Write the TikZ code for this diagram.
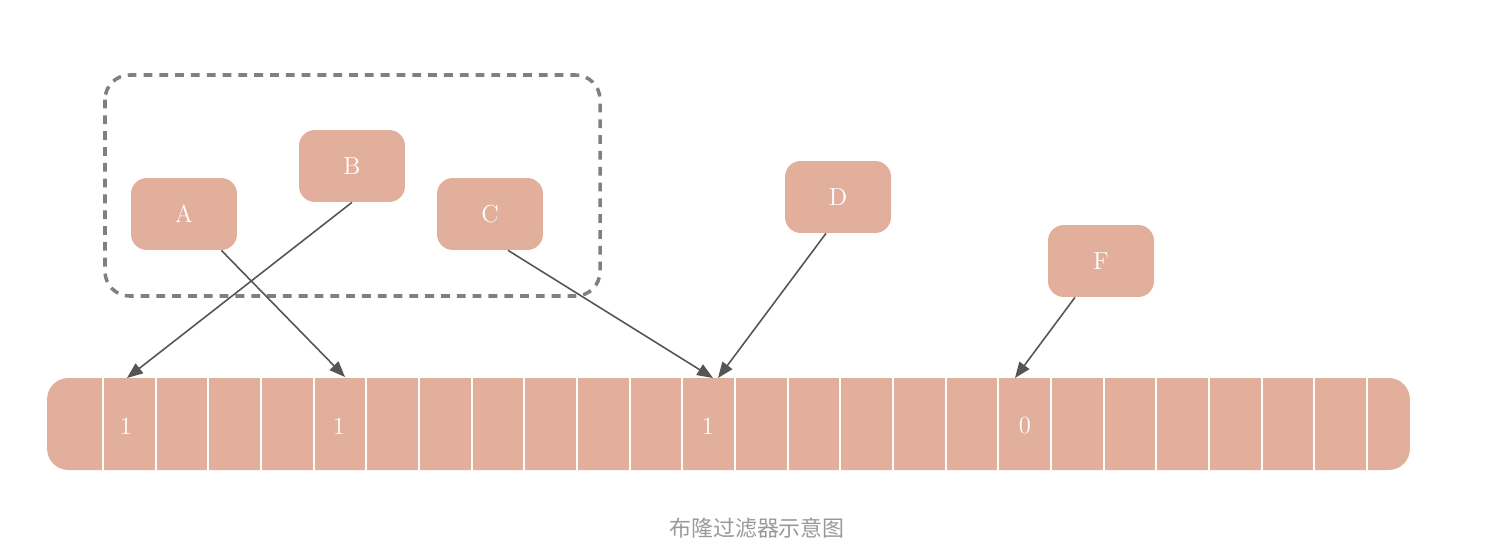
\documentclass[tikz,border=0pt]{standalone}
\usepackage{fontspec}
\newfontfamily\cjk{Noto Sans CJK SC}
\usetikzlibrary{arrows.meta}
\definecolor{salmon}{HTML}{E2AF9C}
\definecolor{arr}{HTML}{555555}
\begin{document}
\begin{tikzpicture}[x=0.02cm,y=-0.02cm,
  key/.style={fill=salmon,rounded corners=9pt,minimum width=2.12cm,minimum height=1.44cm,text=white,font=\fontsize{14}{16}\selectfont,inner sep=0},
  link/.style={draw=arr,line width=0.9pt,-{Triangle[length=9pt,width=7pt]}},
  bit/.style={text=white,font=\fontsize{14}{16}\selectfont}]
\useasboundingbox (0,0) rectangle (1510,548);
\draw[gray,dashed,line width=2pt,dash pattern=on 5pt off 4pt,rounded corners=14pt] (105,75) rectangle (600,296);
\node[fill=salmon,rounded corners=12pt,minimum width=27.26cm,minimum height=1.84cm,inner sep=0] (bar) at (728.5,424) {};
\foreach \i in {0,...,24}{\draw[white,line width=1.2pt] (103+52.67*\i,378) -- (103+52.67*\i,470);}
\node[key] (A) at (184,214) {A};
\node[key] (B) at (352,166) {B};
\node[key] (C) at (490,214) {C};
\node[key] (D) at (838,197) {D};
\node[key] (F) at (1101,261) {F};
\node[bit] (b1) at (126,426) {1};
\node[bit] (b2) at (339,426) {1};
\node[bit] (b3) at (708,426) {1};
\node[bit] (b4) at (1025,426) {0};
\coordinate (tA) at (345,377);
\coordinate (tB) at (127,378);
\coordinate (tC) at (713,378);
\coordinate (tD) at (718,378);
\coordinate (tF) at (1015,378);
\draw[link] (A.south east) ++(-16,0) -- (tA);
\draw[link] (B.south) -- (tB);
\draw[link] (C.south) ++(18,0) -- (tC);
\draw[link] (D.south) ++(-12,0) -- (tD);
\draw[link] (F.south) ++(-26,0) -- (tF);
\node[text=gray!80,font=\cjk\fontsize{12.5}{14}\selectfont] (cap) at (757,528) {布隆过滤器示意图};
\end{tikzpicture}
\end{document}
